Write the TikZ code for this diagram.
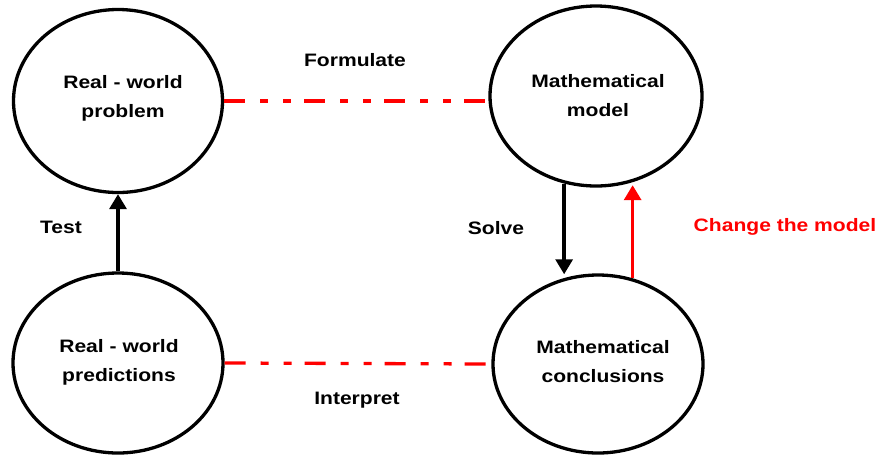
\documentclass[tikz,border=0pt]{standalone}
\usepackage{fontspec}
\setmainfont{Liberation Sans}[FakeStretch=1.17]
\usetikzlibrary{arrows.meta,shapes.geometric}
\tikzset{
  stage/.style={draw=black, line width=3.3pt, ellipse, inner sep=0pt},
  txt/.style={font=\fontsize{18}{29}\selectfont\bfseries, align=center, inner sep=0pt},
  dashline/.style={draw=red, line width=3.3pt, dash pattern=on 21pt off 15pt on 8pt off 15pt on 8pt off 13pt},
  blkarrow/.style={draw=black, line width=3.3pt, -{Triangle[length=15pt,width=17pt]}},
  redarrow/.style={draw=red, line width=3.3pt, -{Triangle[length=15pt,width=17pt]}}
}
\begin{document}
\begin{tikzpicture}[x=1pt,y=-1pt]
\useasboundingbox (0,0) rectangle (883,456);
\node[stage, minimum width=209pt, minimum height=183pt] (tl) at (118,101) {};
\node[stage, minimum width=212pt, minimum height=180pt] (tr) at (596,96) {};
\node[stage, minimum width=210pt, minimum height=180pt] (bl) at (118,363) {};
\node[stage, minimum width=210pt, minimum height=178pt] (br) at (598,364) {};

\node[txt] (tlt) at (123,98) {Real - world\\problem};
\node[txt] (trt) at (598,96) {Mathematical\\model};
\node[txt] (blt) at (119,362) {Real - world\\predictions};
\node[txt] (brt) at (603,362) {Mathematical\\conclusions};

\draw[dashline] (tl.east) -- (tr.west |- tl.east);
\draw[dashline] (bl.east) -- (br.west);

\draw[blkarrow] (bl.north) -- (tl.south);
\draw[blkarrow, shorten >=4pt] (tr.250) -- (tr.250 |- br.112.6);
\draw[redarrow, shorten >=3pt] (br.68) -- (br.68 |- tr.293);

\node[txt] (formulate) at (355,60) {Formulate};
\node[txt] (interpret) at (357,400) {Interpret};
\node[txt] (test) at (61,227) {Test};
\node[txt] (solve) at (496,228) {Solve};
\node[txt, text=red] (change) at (785,227) {Change the model};
\end{tikzpicture}
\end{document}
